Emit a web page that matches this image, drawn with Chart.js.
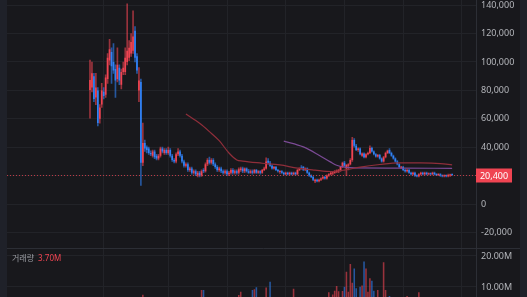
<!DOCTYPE html>
<html>
<head>
<meta charset="utf-8">
<script src="https://cdn.jsdelivr.net/npm/chart.js@4.4.1/dist/chart.umd.min.js"></script>
<style>
    html, body { margin: 0; padding: 0; background: #18181c; overflow: hidden; }
    #wrap { width: 527px; height: 297px; }
</style>
</head>
<body>
<div id="wrap"><canvas id="stockChart" width="527" height="297"></canvas></div>
<script>
// Daily candles, prices in thousands of won (index = trading day)
const openPrices = [
    80.3, 82, 90, 75, 80, 60, 70, 79, 77, 88, 101, 107, 100, 95, 88, 96, 84, 93, 93, 100,
    103, 106, 108, 122, 104, 80, 86, 29, 43, 40, 39, 36, 34, 37, 34, 32, 34, 39, 36, 38,
    36, 38, 34, 31, 30, 35, 37, 34, 30, 27, 28, 24, 25, 22, 23, 20, 22, 20, 24, 23,
    28, 31, 29, 31, 28, 26, 24, 25, 23, 22, 23, 21, 22, 24, 22, 23, 22, 24, 25, 23,
    25, 23, 22, 23, 22, 24, 22, 23, 22, 24, 25, 30.5, 29, 27, 25, 26, 24, 22.5, 23, 22,
    21, 22, 21, 22, 21, 22, 21, 24, 25.5, 26, 24, 25, 22, 20, 19, 16, 17, 16, 17, 18,
    19, 18, 20, 21, 21.5, 22, 22.5, 23, 23.5, 26, 29, 25, 27, 28, 31, 45, 41, 38, 39, 34,
    35.5, 33, 35, 36, 39.5, 37, 35, 33.5, 34.5, 32, 30, 33, 36, 38, 36, 34, 32, 30, 28, 25.5,
    26, 24, 23, 24, 22, 21, 22, 20, 19.5, 21, 22, 21, 22, 21, 21.5, 21, 22, 21, 20.5, 21,
    20, 19.5, 20, 19.5, 20, 20.8
];
const highPrices = [
    101.4, 100, 92, 92, 82, 70, 85, 82, 91, 106, 116, 110, 113, 98, 110, 98, 95, 100, 110, 141,
    115, 120, 136, 125, 106, 96, 88, 57, 45, 41, 40, 37.5, 38, 38, 35, 35, 40, 40, 39, 39,
    40, 39, 35, 32, 36, 39, 38, 35, 31, 29, 29, 26, 26, 24, 24, 23, 23, 24, 25, 29,
    32, 33, 32, 32, 29, 27, 26, 26, 24, 24, 24, 23, 25, 25, 24, 24, 25.5, 26, 26, 25.5,
    25.5, 24.5, 24, 24, 24.5, 24.5, 23.5, 23.5, 24.5, 26, 32.5, 32, 30, 27.5, 26.5, 26.5, 24.5, 23.5, 23.5, 22.5,
    22.5, 22.5, 22.5, 22.5, 22.5, 22.5, 24.5, 25.5, 27, 26.5, 25.5, 25.5, 22.5, 20.5, 19.5, 17.5, 17.5, 17.5, 18.5, 19.5,
    19.5, 20.5, 21.5, 22.5, 22.5, 23.5, 24, 24.5, 26.5, 29.5, 30, 28, 28.5, 32, 47, 46, 42, 39.5, 39.5, 36,
    36, 35.5, 36.5, 41, 40, 37.5, 35.5, 35, 35, 32.5, 33.5, 36.5, 38, 39, 36.5, 34.5, 32.5, 30.5, 28.5, 26.5,
    26.5, 24.5, 24.5, 24.5, 22.5, 22.5, 22.5, 20.5, 21.5, 22.5, 22.5, 22.5, 22.5, 22, 22, 22.5, 22.5, 21.5, 21.5, 21.5,
    20.5, 20.5, 20.5, 21, 21, 21.2
];
const lowPrices = [
    60.5, 79, 72, 70, 55, 57, 68, 74, 75, 85, 98, 85, 92, 75, 86, 84, 81, 91, 91, 98,
    101, 104, 106, 100, 92, 72, 13, 27, 37, 36, 35, 34, 33, 32, 31, 31, 33, 36, 35, 35,
    35, 33, 30, 29, 29, 34, 33, 29, 26, 26, 23, 23, 21, 21, 20, 19, 19, 19.5, 22, 22.5,
    27, 28, 28, 27, 25, 23, 23, 22, 21, 21, 20, 20, 21, 21, 21, 21, 21, 23, 22, 22,
    22.5, 21.5, 21.5, 21, 21.5, 21.5, 21.5, 21, 21.5, 23.5, 24.5, 28, 26.5, 24.5, 24.5, 23.5, 22.5, 21.5, 21.5, 20.5,
    20.5, 20.5, 20.5, 20.5, 20.5, 20.5, 20.5, 23.5, 24.5, 23.5, 23.5, 21.5, 19.5, 18.5, 16.5, 15, 15.5, 15.5, 16.5, 17.5,
    17.5, 17.5, 19.5, 20.5, 20.5, 21.5, 22, 22, 23, 25.5, 26.5, 20, 24, 27.5, 30, 40, 37.5, 37, 34.5, 33.5,
    32.5, 32.5, 34.5, 35.5, 36.5, 34.5, 33, 33, 31.5, 29.5, 29.5, 32.5, 35.5, 35.5, 33.5, 31.5, 29.5, 27.5, 25.5, 25,
    23.5, 22.5, 22.5, 21.5, 20.5, 20.5, 19.5, 19, 19, 20.5, 20.5, 20.5, 20.5, 20.5, 20.5, 20.5, 20.5, 20, 20, 19.5,
    19, 19, 19, 19, 19.5, 20.1
];
const closePrices = [
    87.3, 92, 74, 82, 57, 68, 80, 76, 89, 103, 109, 97, 94, 87, 98, 87, 93, 96, 103, 108,
    110, 114, 118, 103, 94, 87, 29, 43, 39, 38, 36, 35, 37, 33, 32, 34, 39, 37, 38, 36,
    38, 34, 31, 30, 35, 37, 34, 30, 27, 28, 24, 25, 22, 23, 21, 22, 20, 23, 23, 28,
    31, 29, 31, 28, 26, 24, 25, 23, 22, 23, 21, 22, 24, 22, 23, 22, 24.5, 25, 23, 25,
    23, 22, 23, 22, 24, 22, 23, 22, 24, 25, 30, 29, 27, 25, 26, 24, 23, 23, 22, 21,
    22, 21, 22, 21, 22, 21, 24, 25, 25, 24, 25, 22, 20, 19, 17, 17, 16, 17, 18, 19,
    18, 20, 21, 22, 22, 23, 23.5, 24, 26, 29, 27, 27.5, 28, 31, 45, 41, 38, 39, 35, 35.5,
    33, 35, 36, 39.5, 37, 35, 33.5, 34.5, 32, 30, 33, 36, 37.5, 36, 34, 32, 30, 28, 26, 26,
    24, 23, 24, 22, 21, 22, 20, 19.5, 21, 22, 21, 22, 21, 21.5, 21, 22, 21, 20.5, 21, 20,
    19.5, 20, 19.5, 20.5, 20.6, 20.4
];
// Volume in millions of shares
const volumes = [
    4.2, 3.1, 2.8, 2.5, 3.6, 2.9, 2.4, 1.8, 2.6, 4.8, 3.9, 2.7, 2.2, 2.0, 2.5, 1.9, 1.7, 1.5, 2.8, 5.6,
    3.2, 3.8, 4.9, 4.4, 2.6, 3.1, 6.2, 7.5, 2.4, 1.6, 1.2, 1.0, 1.4, 1.1, 0.9, 1.0, 2.2, 1.3, 1.1, 0.9,
    1.5, 1.2, 1.4, 1.0, 1.8, 2.0, 1.3, 1.5, 1.7, 1.1, 1.6, 1.0, 1.3, 0.9, 1.2, 1.4, 1.5, 9.0, 9.0, 5.2,
    4.6, 2.8, 2.1, 1.9, 1.6, 1.4, 1.0, 1.2, 0.9, 0.8, 1.1, 0.9, 1.5, 1.0, 0.9, 1.2, 7.4, 8.5, 2.3, 1.9,
    1.4, 1.6, 2.0, 9.0, 9.3, 9.9, 1.8, 1.5, 3.2, 3.2, 9.8, 4.0, 11.7, 3.1, 2.0, 1.7, 1.2, 1.0, 0.9, 1.1,
    0.8, 1.0, 1.3, 1.1, 9.4, 1.0, 2.9, 3.5, 2.4, 1.8, 1.6, 2.2, 2.5, 1.9, 2.8, 2.6, 1.5, 1.8, 2.1, 2.7,
    1.6, 3.3, 8.3, 4.5, 7.6, 8.8, 10.3, 8.6, 5.9, 8.7, 10.1, 14.9, 8.5, 17.4, 11.4, 16.0, 9.6, 6.0, 10.1, 10.5,
    18.2, 16.0, 8.5, 12.8, 12.0, 8.8, 4.2, 9.0, 5.1, 3.8, 18.0, 9.0, 5.6, 7.1, 4.0, 3.3, 3.6, 4.1, 3.9, 2.5,
    3.0, 2.6, 7.1, 3.4, 2.7, 2.2, 3.1, 2.5, 8.3, 4.4, 2.9, 2.3, 2.1, 1.8, 2.0, 2.6, 1.9, 1.7, 2.2, 2.4,
    1.9, 2.1, 1.6, 2.8, 3.1, 3.7
];

// Moving averages (day index -> value)
const maShortDays = [49, 56, 61, 66, 71, 75, 78, 88, 97, 106, 115, 123, 130, 138, 148, 158, 169, 179, 185];
const maShortValues = [63.4, 56.8, 51.0, 44.6, 35.9, 31.0, 30.2, 28.7, 27.5, 25.3, 23.9, 22.9, 23.9, 26.0, 27.8, 28.9, 28.9, 28.5, 27.5];
const maLongDays = [99, 109, 117, 123, 126, 130, 135, 158, 185];
const maLongValues = [44.3, 40.2, 34.4, 29.5, 27.3, 26.0, 25.4, 25.3, 25.1];

// Axis ticks
const priceTicks = [-20, 0, 20, 40, 60, 80, 100, 120, 140];
const volumeTicks = [10, 20];
const monthStarts = [7, 40, 70, 100, 130, 160, 190];

const UP = '#f04452';
const DOWN = '#3182f6';
const BG = '#18181c';
const GRID = '#222328';
const AXIS_LINE = '#2c2e35';
const LABEL = '#b4b6bb';
const FONT = '"Noto Sans", "Noto Sans CJK KR", sans-serif';

const isUp = i => closePrices[i] >= openPrices[i];
const lastClose = closePrices[closePrices.length - 1];
const lastVolume = volumes[volumes.length - 1];

const rgba = (hex, a) => {
    const n = parseInt(hex.slice(1), 16);
    return `rgba(${n >> 16}, ${(n >> 8) & 255}, ${n & 255}, ${a})`;
};

// fixed axis column, no label overflow padding
const fitAxis = s => {
    s.width = 51;
    s.paddingTop = 0;
    s.paddingBottom = 0;
};
const useTicks = list => s => { s.ticks = list.map(v => ({ value: v })); };

// Background strips, current price marker and volume caption
const paneDecor = {
    id: 'paneDecor',
    beforeDraw(chart) {
        const { ctx, width, height } = chart;
        ctx.save();
        ctx.fillStyle = BG;
        ctx.fillRect(0, 0, width, height);
        ctx.fillStyle = '#1f2129';
        ctx.fillRect(0, 0, 7, height);
        ctx.fillRect(520, 0, width - 520, height);
        ctx.restore();
    },
    afterDraw(chart) {
        const { ctx, chartArea } = chart;
        const yScale = chart.scales.y;
        const vScale = chart.scales.vol;
        const py = Math.round(yScale.getPixelForValue(lastClose)) + 0.5;

        ctx.save();
        // dotted last price line
        ctx.strokeStyle = rgba(UP, 0.75);
        ctx.lineWidth = 1;
        ctx.setLineDash([1, 2]);
        ctx.beginPath();
        ctx.moveTo(chartArea.left, py);
        ctx.lineTo(chartArea.right, py);
        ctx.stroke();
        ctx.setLineDash([]);

        // price tag
        ctx.fillStyle = UP;
        ctx.fillRect(chartArea.right, py - 7, 36, 14);
        ctx.fillStyle = '#ffffff';
        ctx.font = `9px ${FONT}`;
        ctx.textAlign = 'center';
        ctx.textBaseline = 'middle';
        ctx.fillText((lastClose * 1000).toLocaleString('en-US'), chartArea.right + 18, py + 0.5);

        // pane separator
        const sepY = Math.round(vScale.top) + 0.5;
        ctx.strokeStyle = AXIS_LINE;
        ctx.beginPath();
        ctx.moveTo(chartArea.left, sepY);
        ctx.lineTo(520, sepY);
        ctx.stroke();

        // volume caption
        ctx.textAlign = 'left';
        ctx.font = `8px ${FONT}`;
        ctx.fillStyle = '#9c9ea4';
        const cap = '거래량';
        ctx.fillText(cap, 12, sepY + 10);
        const w = ctx.measureText(cap).width;
        ctx.fillStyle = UP;
        ctx.fillText(lastVolume.toFixed(2) + 'M', 12 + w + 4, sepY + 10);
        ctx.restore();
    }
};

const ctx = document.getElementById('stockChart').getContext('2d');

new Chart(ctx, {
    type: 'bar',
    data: {
        datasets: [
            {
                type: 'line',
                data: maShortDays.map((d, i) => ({ x: d, y: maShortValues[i] })),
                borderColor: '#8f2e3a',
                borderWidth: 1.2,
                pointRadius: 0,
                cubicInterpolationMode: 'monotone',
                order: 0
            },
            {
                type: 'line',
                data: maLongDays.map((d, i) => ({ x: d, y: maLongValues[i] })),
                borderColor: '#7b4a95',
                borderWidth: 1.2,
                pointRadius: 0,
                cubicInterpolationMode: 'monotone',
                order: 0
            },
            {
                // candle bodies
                data: openPrices.map((o, i) => ({ x: i, y: [o, closePrices[i]] })),
                backgroundColor: openPrices.map((o, i) => isUp(i) ? UP : DOWN),
                grouped: false,
                barPercentage: 0.85,
                categoryPercentage: 1,
                minBarLength: 1,
                order: 1
            },
            {
                // wicks
                data: lowPrices.map((l, i) => ({ x: i, y: [l, highPrices[i]] })),
                backgroundColor: openPrices.map((o, i) => isUp(i) ? rgba(UP, 0.6) : rgba(DOWN, 0.6)),
                grouped: false,
                barThickness: 1,
                order: 2
            },
            {
                // volume
                yAxisID: 'vol',
                data: volumes.map((v, i) => ({ x: i, y: v })),
                backgroundColor: openPrices.map((o, i) => isUp(i) ? rgba(UP, 0.6) : rgba(DOWN, 0.6)),
                grouped: false,
                barPercentage: 0.8,
                categoryPercentage: 1,
                order: 3
            }
        ]
    },
    options: {
        responsive: false,
        animation: false,
        events: [],
        layout: { autoPadding: false, padding: { left: 7, right: 0, top: 0, bottom: 0 } },
        plugins: {
            legend: { display: false },
            tooltip: { enabled: false }
        },
        scales: {
            x: {
                type: 'linear',
                min: -42.4,
                max: 197.2,
                offset: false,
                grid: { color: GRID, drawTicks: false, offset: false },
                border: { display: false },
                ticks: { display: false },
                afterBuildTicks: useTicks(monthStarts),
                afterFit: s => { s.height = 0; s.paddingLeft = 0; s.paddingRight = 0; }
            },
            y: {
                position: 'right',
                stack: 'panes',
                stackWeight: 247.5,
                min: -30.63,
                max: 143.66,
                afterBuildTicks: useTicks(priceTicks),
                afterFit: fitAxis,
                grid: { color: GRID, drawTicks: false },
                border: { color: AXIS_LINE },
                ticks: {
                    color: LABEL,
                    padding: 5,
                    autoSkip: false,
                    font: { family: FONT, size: 9 },
                    // the price tag covers the nearest label
                    callback: v => Math.abs(v - lastClose) < 5 ? '' : (v * 1000).toLocaleString('en-US')
                }
            },
            vol: {
                position: 'right',
                stack: 'panes',
                stackWeight: 49.5,
                min: 6.77,
                max: 22.74,
                afterBuildTicks: useTicks(volumeTicks),
                afterFit: fitAxis,
                grid: { color: GRID, drawTicks: false },
                border: { color: AXIS_LINE },
                ticks: {
                    color: LABEL,
                    padding: 5,
                    autoSkip: false,
                    font: { family: FONT, size: 9 },
                    callback: v => v.toFixed(2) + 'M'
                }
            }
        }
    },
    plugins: [paneDecor]
});
</script>
</body>
</html>
